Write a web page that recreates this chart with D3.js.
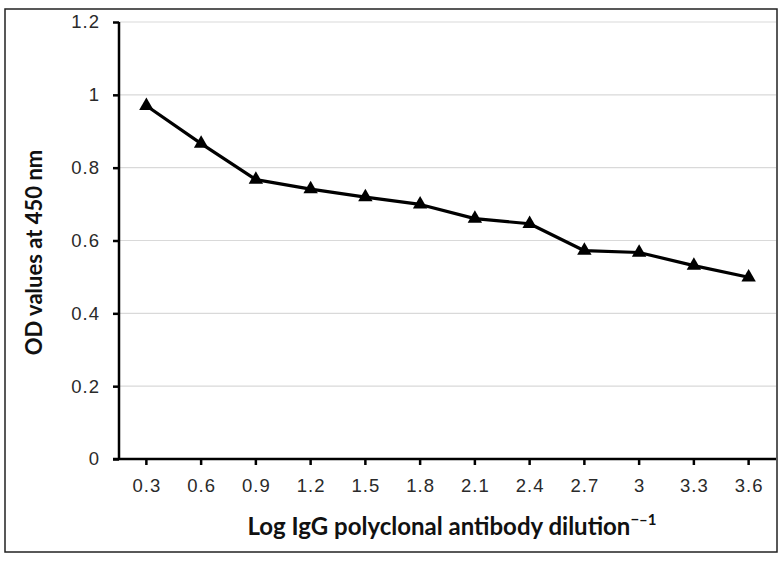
<!DOCTYPE html>
<html><head><meta charset="utf-8">
<script src="https://cdn.jsdelivr.net/npm/d3@7"></script>
<style>body{margin:0;background:#fff}svg{display:block}</style>
</head><body>
<script>
const categories = ["0.3","0.6","0.9","1.2","1.5","1.8","2.1","2.4","2.7","3","3.3","3.6"];
const odValues = [0.97,0.866,0.767,0.741,0.719,0.699,0.66,0.646,0.572,0.567,0.531,0.499];
const yTicks = [0,0.2,0.4,0.6,0.8,1,1.2];
const yTitle = "OD values at 450 nm";
const xTitle = "Log IgG polyclonal antibody dilution";

const W = 784, H = 562;
const m = {left:119, top:22, right:776, bottom:459};
const svg = d3.select("body").append("svg").attr("width",W).attr("height",H);

svg.append("rect").attr("x",5).attr("y",9).attr("width",772).attr("height",543)
  .attr("fill","#fff").attr("stroke","#222").attr("stroke-width",1.5);

const x = d3.scaleBand().domain(categories).range([m.left,m.right]).padding(0);
const y = d3.scaleLinear().domain([0,1.2]).range([m.bottom,m.top]);
const cx = d => x(d)+x.bandwidth()/2;

// gridlines
svg.append("g").selectAll("line").data(yTicks.filter(d=>d>0)).join("line")
  .attr("x1",m.left).attr("x2",m.right).attr("y1",d=>y(d)).attr("y2",d=>y(d))
  .attr("stroke","#d9d9d9").attr("stroke-width",1.2);

const tickFont = sel => sel.attr("font-family","'Liberation Sans', Arial, sans-serif")
  .attr("font-size",18.5).attr("letter-spacing",1).attr("fill","#2a2a2a");

// y axis
const yAxis = svg.append("g").attr("transform",`translate(${m.left},0)`)
  .call(d3.axisLeft(y).tickValues(yTicks).tickFormat(d=>String(d)).tickSize(6).tickPadding(13));
yAxis.select(".domain").attr("d",`M0,${m.top}V${m.bottom}`).attr("stroke","#000").attr("stroke-width",2.5);
yAxis.selectAll(".tick line").attr("stroke","#000").attr("stroke-width",2.5);
yAxis.selectAll(".tick text").call(tickFont);

// x axis
const xAxis = svg.append("g").attr("transform",`translate(0,${m.bottom})`)
  .call(d3.axisBottom(x).tickSize(6).tickPadding(14));
xAxis.select(".domain").attr("d",`M${m.left-6},0H${m.right}`).attr("stroke","#000").attr("stroke-width",2.5);
xAxis.selectAll(".tick line").attr("stroke","#000").attr("stroke-width",2.5);
xAxis.selectAll(".tick text").call(tickFont).attr("dx",0.5);

// line
const line = d3.line().x((d,i)=>cx(categories[i])).y(d=>y(d));
svg.append("path").datum(odValues).attr("d",line).attr("fill","none")
  .attr("stroke","#000").attr("stroke-width",3.2).attr("stroke-linejoin","round");

// markers
const tri = d3.symbol().type(d3.symbolTriangle).size(90);
svg.append("g").selectAll("path").data(odValues).join("path")
  .attr("d",tri).attr("transform",(d,i)=>`translate(${cx(categories[i])},${y(d)})`)
  .attr("fill","#000");

// titles
const xt = svg.append("text").attr("x",452).attr("y",535).attr("text-anchor","middle")
  .attr("font-family","Lato, Carlito, Calibri, sans-serif").attr("font-weight","bold").attr("font-size",24).attr("fill","#111");
xt.append("tspan").text(xTitle);
xt.append("tspan").attr("font-size",15).attr("dy",-10).text("\u2212\u20131");

svg.append("text").attr("transform",`translate(42,${(m.top+m.bottom)/2+12}) rotate(-90)`)
  .attr("text-anchor","middle")
  .attr("font-family","Lato, Carlito, Calibri, sans-serif").attr("font-weight","bold").attr("font-size",22).attr("fill","#111")
  .text(yTitle);
</script>
</body></html>
